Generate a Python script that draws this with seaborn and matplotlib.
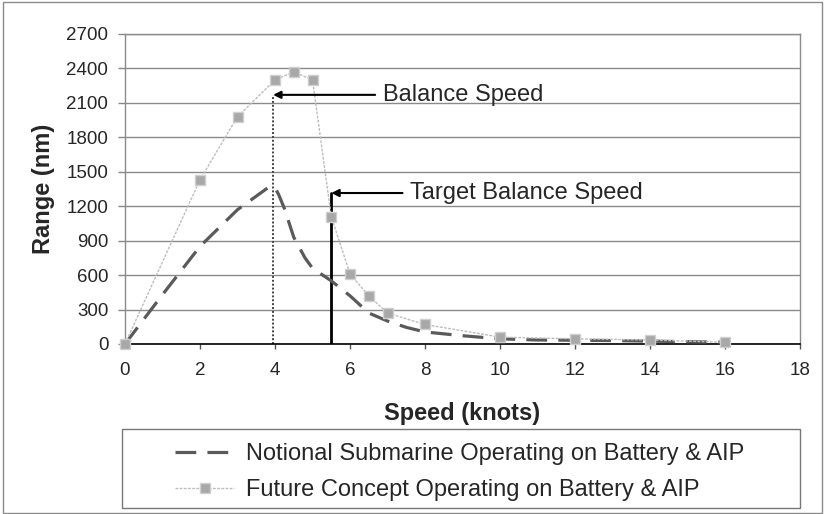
import matplotlib
matplotlib.use("Agg")
import matplotlib.pyplot as plt
from matplotlib.patches import Rectangle
import seaborn as sns
import pandas as pd

# Range vs speed for the two configurations
notional_speed = [0, 1, 2, 3, 3.85, 4.0, 4.1, 4.25, 4.5, 4.8, 5.0, 5.5, 6.0, 6.5,
                  7.0, 7.5, 8, 9, 10, 11, 12, 13, 14, 15, 16]
notional_range = [0, 430, 850, 1170, 1370, 1360, 1300, 1180, 930, 750, 660, 550, 420, 270,
                  200, 145, 105, 72, 45, 35, 33, 30, 25, 20, 15]

future_speed = [0, 2, 3, 4, 4.5, 5, 5.5, 6, 6.5, 7, 8, 10, 12, 14, 16]
future_range = [0, 1430, 1980, 2300, 2370, 2300, 1110, 610, 420, 270, 170, 60, 45, 35, 15]

series_labels = ["Notional Submarine Operating on Battery & AIP",
                 "Future Concept Operating on Battery & AIP"]

balance_speed = 3.95
balance_arrow_range = 2170
target_speed = 5.5
target_arrow_range = 1315

x_ticks = list(range(0, 19, 2))
y_ticks = list(range(0, 2701, 300))

notional_df = pd.DataFrame({"speed": notional_speed, "range": notional_range})
future_df = pd.DataFrame({"speed": future_speed, "range": future_range})

sns.set_style("white")
plt.rcParams["font.family"] = ["Liberation Sans", "DejaVu Sans"]

W, H = 827, 514
fig = plt.figure(figsize=(W / 100, H / 100), dpi=100)
ax = fig.add_axes([125 / W, 1 - 344 / H, 675 / W, 310 / H])

# reference lines for balance speeds
ax.plot([balance_speed, balance_speed], [0, balance_arrow_range], color="#444444",
        lw=1.4, linestyle=(0, (1, 1)), zorder=2)
ax.plot([target_speed, target_speed], [0, target_arrow_range], color="black",
        lw=2.0, zorder=2)

sns.lineplot(data=notional_df, x="speed", y="range", ax=ax, color="#5a5a5a",
             linewidth=2.3, linestyle=(0, (6.5, 3.5)), label=series_labels[0],
             zorder=3, estimator=None, sort=False)
sns.lineplot(data=future_df, x="speed", y="range", ax=ax, color="#bdbdbd",
             linewidth=1.0, linestyle=(0, (2, 1)), marker="s", markersize=6.5,
             markerfacecolor="#a8a8a8", markeredgecolor="#cfcfcf", markeredgewidth=1,
             label=series_labels[1], zorder=4, clip_on=False,
             estimator=None, sort=False)

ax.set_xlim(0, 18)
ax.set_ylim(0, 2700)
ax.set_xticks(x_ticks)
ax.set_yticks(y_ticks)
ax.set_xticklabels([str(v) for v in x_ticks], fontsize=13.5)
ax.set_yticklabels([str(v) for v in y_ticks], fontsize=13.5)
ax.tick_params(axis="x", direction="out", length=3.6, width=1, color="#555555", pad=9.5,
               bottom=True)
ax.tick_params(axis="y", direction="out", length=5, width=1, color="#888888", pad=7,
               left=True)
ax.yaxis.grid(True, color="#8a8a8a", linewidth=1)
ax.xaxis.grid(False)
ax.set_axisbelow(True)

for side in ["left", "right", "top"]:
    ax.spines[side].set_color("#8a8a8a")
    ax.spines[side].set_linewidth(1)
ax.spines["bottom"].set_color("black")
ax.spines["bottom"].set_linewidth(1.2)

ax.set_xlabel("Speed (knots)", fontsize=17, fontweight="bold")
ax.set_ylabel("Range (nm)", fontsize=17, fontweight="bold")
ax.xaxis.set_label_coords(0.5, -0.186)
ax.yaxis.set_label_coords(-0.104, 0.5)

# arrows with captions
arrow_kw = dict(arrowstyle="-|>", color="black", lw=1.5, mutation_scale=11,
                shrinkA=0, shrinkB=0)
ax.annotate("", xy=(balance_speed, balance_arrow_range), xytext=(6.67, balance_arrow_range),
            arrowprops=arrow_kw, zorder=5)
ax.text(6.88, balance_arrow_range, "Balance Speed", fontsize=17, va="center", ha="left")
ax.annotate("", xy=(target_speed, target_arrow_range), xytext=(7.4, target_arrow_range),
            arrowprops=arrow_kw, zorder=5)
ax.text(7.6, target_arrow_range, "Target Balance Speed", fontsize=17, va="center",
        ha="left")

# legend inside a boxed panel below the axis title
handles, labels = ax.get_legend_handles_labels()
if ax.get_legend() is not None:
    ax.get_legend().remove()
fig.patches.append(Rectangle((122 / W, 1 - 508 / H), 678 / W, 79 / H,
                             transform=fig.transFigure, fill=False,
                             edgecolor="#777777", lw=1))
fig.legend(handles, labels, loc="upper left", bbox_to_anchor=(175 / W, 1 - 443 / H),
           frameon=False, borderaxespad=0, borderpad=0, handlelength=2.5,
           handletextpad=0.5, labelspacing=0.6, fontsize=17)

# outer chart border
fig.patches.append(Rectangle((3 / W, 1 / H), 819 / W, 511 / H, transform=fig.transFigure,
                             fill=False, edgecolor="#8a8a8a", lw=1))

fig.savefig("out.png", dpi=100, facecolor="white")
